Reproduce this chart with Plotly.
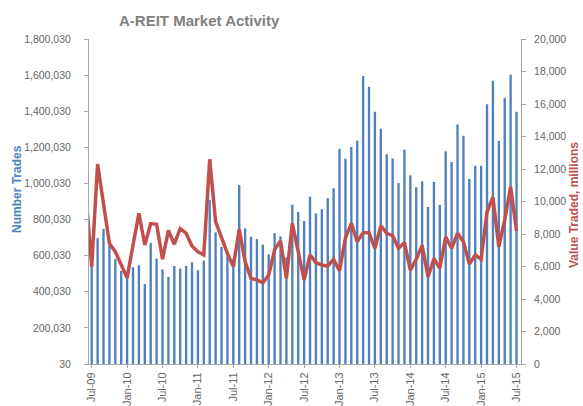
import plotly.graph_objects as go

# Monthly data, Jul-09 .. Jul-15 (73 months)
month_index = list(range(73))
number_trades = [
    543000, 697000, 748000, 659000, 582000, 516000, 478000, 536000, 547000, 443000,
    670000, 584000, 524000, 483000, 543000, 529000, 543000, 563000, 520000, 573000,
    908000, 729000, 648000, 598000, 580000, 991000, 751000, 705000, 692000, 661000,
    607000, 725000, 707000, 591000, 882000, 842000, 792000, 927000, 834000, 857000,
    918000, 973000, 1192000, 1137000, 1202000, 1237000, 1595000, 1536000, 1397000, 1303000,
    1161000, 1139000, 1002000, 1187000, 1045000, 979000, 1012000, 870000, 1008000, 881000,
    1178000, 1119000, 1327000, 1264000, 1025000, 1098000, 1098000, 1438000, 1569000, 1235000,
    1475000, 1602000, 1397000,
]

# Value traded (millions); the series starts one month earlier (Jun-09), clipped at the axis
value_index = list(range(-1, 73))
value_traded = [
    10500,
    5990, 12300, 9900, 7420, 6910, 6090, 5300, 7320, 9270, 7320,
    8640, 8600, 6450, 8220, 7370, 8330, 8040, 7260, 6910, 6710,
    12600, 8760, 7740, 6810, 5990, 8290, 6300, 5270, 5170, 5000,
    5480, 7020, 7590, 5270, 8660, 7020, 5170, 6710, 6240, 6090,
    6030, 6440, 5740, 7740, 8660, 7530, 8080, 8080, 7120, 8510,
    8040, 7900, 7120, 7470, 5780, 6440, 7300, 5370, 6480, 5890,
    7820, 7120, 8040, 7530, 6150, 6710, 6440, 9370, 10260, 7220,
    8860, 10910, 8180,
]

tick_positions = [0, 6, 12, 18, 24, 30, 36, 42, 48, 54, 60, 66, 72]
tick_labels = ["Jul-09", "Jan-10", "Jul-10", "Jan-11", "Jul-11", "Jan-12", "Jul-12",
               "Jan-13", "Jul-13", "Jan-14", "Jul-14", "Jan-15", "Jul-15"]

left_ticks = [30 + 200000 * k for k in range(10)]
right_ticks = [2000 * k for k in range(11)]

FONT = "Liberation Sans, Arial, sans-serif"
AXIS_GRAY = "#A6A6A6"
LABEL_GRAY = "#666666"

fig = go.Figure()
fig.add_trace(go.Bar(
    x=month_index, y=number_trades, name="Number Trades",
    marker=dict(color="#4F81BD", line=dict(width=0)),
    yaxis="y",
))
fig.add_trace(go.Scatter(
    x=value_index, y=value_traded, name="Value Traded, millions",
    mode="lines", line=dict(color="#C0504D", width=3.5),
    yaxis="y2",
))

fig.update_layout(
    width=583, height=406,
    margin=dict(l=89, r=62, t=39, b=42, autoexpand=False),
    paper_bgcolor="white", plot_bgcolor="white",
    showlegend=False,
    bargap=0.6,
    font=dict(family=FONT, size=11, color=LABEL_GRAY),
    xaxis=dict(
        range=[-0.46, 72.76],
        automargin=False,
        tickmode="array", tickvals=tick_positions, ticktext=tick_labels,
        tickangle=-90,
        showgrid=False, zeroline=False,
        showline=True, linecolor=AXIS_GRAY, linewidth=1,
        ticks="outside", ticklen=3, tickcolor=AXIS_GRAY,
        tickfont=dict(size=11, color=LABEL_GRAY),
    ),
    yaxis=dict(
        range=[30, 1800030],
        automargin=False,
        tickmode="array", tickvals=left_ticks,
        tickformat=",",
        showgrid=False, zeroline=False,
        showline=True, linecolor=AXIS_GRAY, linewidth=1,
        ticks="outside", ticklen=4, tickcolor=AXIS_GRAY,
        ticklabelstandoff=11,
        tickfont=dict(size=10.5, color=LABEL_GRAY),
    ),
    yaxis2=dict(
        range=[0, 20000],
        automargin=False,
        overlaying="y", side="right",
        tickmode="array", tickvals=right_ticks,
        tickformat=",",
        showgrid=False, zeroline=False,
        showline=True, linecolor=AXIS_GRAY, linewidth=1,
        ticks="outside", ticklen=4, tickcolor=AXIS_GRAY,
        ticklabelstandoff=6,
        tickfont=dict(size=10.5, color=LABEL_GRAY),
    ),
    annotations=[
        dict(text="<b>A-REIT Market Activity</b>", x=199, y=20.5,
             xref="paper", yref="paper", showarrow=False,
             font=dict(size=15, color="#7F7F7F", family=FONT)),
        dict(text="<b>Number Trades</b>", x=17, y=189,
             xref="paper", yref="paper", showarrow=False, textangle=-90,
             font=dict(size=12, color="#4F81BD", family=FONT)),
        dict(text="<b>Value Traded, millions</b>", x=574, y=205,
             xref="paper", yref="paper", showarrow=False, textangle=-90,
             font=dict(size=12, color="#C0504D", family=FONT)),
    ],
)

# Convert pixel positions of annotations to paper coordinates
pw = 583 - 89 - 62
ph = 406 - 39 - 42
for ann in fig.layout.annotations:
    px, py = ann.x, ann.y
    ann.x = (px - 89) / pw
    ann.y = (406 - 42 - py) / ph
    ann.xanchor = "center"
    ann.yanchor = "middle"

fig.write_html(
    "out.html",
    config={"displayModeBar": False},
    post_script="document.body.style.margin='0';",
)
